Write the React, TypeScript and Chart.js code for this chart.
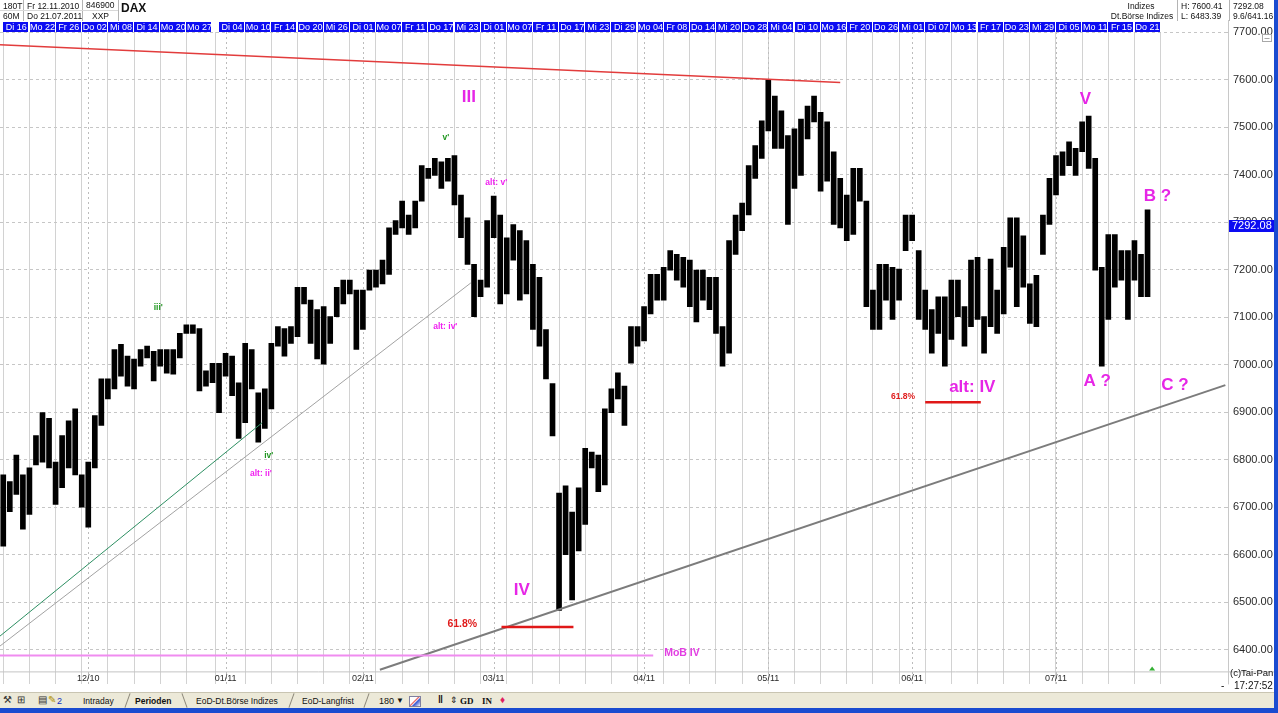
import React, { useEffect, useRef } from "react";
import { Chart, registerables } from "chart.js";

Chart.register(...registerables);

// ---- DATA (trading-day index = position in arrays, 12.11.2010 .. 21.07.2011) ----
const highs = [
  6768, 6754, 6810, 6768, 6783, 6851, 6899, 6887, 6795, 6851,
  6882, 6907, 6768, 6795, 6893, 6970, 6970, 7032, 7043, 7018,
  7012, 7032, 7039, 7028, 7032, 7032, 7032, 7066, 7084, 7084,
  7076, 6987, 7003, 7003, 7024, 7018, 6962, 7045, 7032, 6941,
  6949, 7045, 7080, 7076, 7080, 7163, 7163, 7136, 7116, 7122,
  7101, 7163, 7178, 7178, 7157, 7157, 7199, 7199, 7220, 7288,
  7303, 7344, 7315, 7344, 7419, 7413, 7434, 7427, 7434, 7440,
  7357, 7309, 7211, 7178, 7303, 7355, 7315, 7267, 7295, 7282,
  7261, 7211, 7184, 7074, 6960, 6730, 6745, 6690, 6741, 6824,
  6816, 6810, 6907, 6949, 6983, 6955, 7080, 7080, 7122, 7190,
  7190, 7205, 7240, 7232, 7226, 7220, 7199, 7199, 7184, 7184,
  7080, 7261, 7315, 7340, 7419, 7461, 7513, 7600, 7565, 7534,
  7482, 7496, 7517, 7544, 7565, 7531, 7511, 7448, 7392, 7357,
  7413, 7413, 7344, 7157, 7211, 7211, 7205, 7201, 7315, 7315,
  7240, 7157, 7116, 7143, 7143, 7178, 7178, 7122, 7220, 7226,
  7101, 7222, 7157, 7247, 7309, 7309, 7271, 7170, 7188, 7315,
  7392, 7440, 7448, 7469, 7455, 7511, 7523, 7434, 7205, 7274,
  7274, 7240, 7240, 7261, 7232, 7326,
];
const lows = [
  6618, 6691, 6727, 6654, 6685, 6789, 6795, 6783, 6706, 6741,
  6783, 6768, 6700, 6658, 6783, 6872, 6928, 6949, 6976, 6955,
  6949, 6997, 7014, 6966, 6997, 6982, 6980, 7014, 7066, 7066,
  6945, 6955, 6962, 6899, 6976, 6935, 6845, 6878, 6949, 6837,
  6866, 6907, 7039, 7018, 7045, 7059, 7128, 7045, 7012, 7001,
  7045, 7101, 7128, 7149, 7032, 7074, 7157, 7163, 7170, 7190,
  7274, 7288, 7274, 7288, 7344, 7392, 7398, 7371, 7386, 7336,
  7267, 7211, 7101, 7143, 7163, 7267, 7128, 7149, 7220, 7136,
  7149, 7074, 7039, 6970, 6850, 6483, 6600, 6505, 6608, 6664,
  6783, 6733, 6747, 6899, 6928, 6872, 7003, 7039, 7050, 7107,
  7136, 7136, 7199, 7178, 7163, 7122, 7090, 7136, 7116, 7066,
  6997, 7024, 7232, 7282, 7315, 7392, 7434, 7492, 7455, 7455,
  7295, 7371, 7398, 7475, 7511, 7365, 7386, 7295, 7288, 7261,
  7274, 7344, 7122, 7074, 7074, 7136, 7095, 7136, 7240, 7261,
  7095, 7074, 7024, 7066, 6997, 7053, 7101, 7039, 7080, 7095,
  7024, 7080, 7066, 7107, 7205, 7122, 7163, 7087, 7080, 7232,
  7295, 7357, 7398, 7419, 7398, 7448, 7413, 7199, 6997, 7095,
  7163, 7178, 7095, 7178, 7143, 7143,
];
const lastPrice = 7292.08;
const signalDay = 175.7;

const yTicks = [6400, 6500, 6600, 6700, 6800, 6900, 7000, 7100, 7200, 7300, 7400, 7500, 7600, 7700];
const yMin = 6327.3;
const yMax = 7700;
const xMin = -0.5;
const xMax = 187;

const stripDays = [
  2, 6, 10, 14, 18, 22, 26, 30,
  35, 39, 43, 47, 51, 55, 59, 63, 67, 71, 75, 79, 83, 87, 91, 95, 99, 103,
  107, 111, 115, 119, 123, 127, 131, 135, 139, 143, 147, 151, 155, 159, 163, 167, 171, 175,
];
const stripLabels = [
  "Di 16", "Mo 22", "Fr 26", "Do 02", "Mi 08", "Di 14", "Mo 20", "Mo 27",
  "Di 04", "Mo 10", "Fr 14", "Do 20", "Mi 26", "Di 01", "Mo 07", "Fr 11", "Do 17", "Mi 23",
  "Di 01", "Mo 07", "Fr 11", "Do 17", "Mi 23", "Di 29", "Mo 04", "Fr 08", "Do 14", "Mi 20",
  "Do 28", "Mi 04", "Di 10", "Mo 16", "Fr 20", "Do 26", "Mi 01", "Di 07", "Mo 13", "Fr 17",
  "Do 23", "Mi 29", "Di 05", "Mo 11", "Fr 15", "Do 21",
];
const monthStarts = [13, 34, 55, 75, 98, 117, 139, 161];
const monthLabels = ["12/10", "01/11", "02/11", "03/11", "04/11", "05/11", "06/11", "07/11"];

// trend lines: [day, price]
const redResistance = [[-0.5, 7673], [128.0, 7594]];
const greenSupport = [[-0.5, 6429], [39.6, 6878]];
const altSupport = [[-0.5, 6408], [71.5, 7172]];
const mainTrend = [[57.6, 6358], [186.9, 6957]];
const mobLevel = [-0.5, 99.4, 6388];
const fibLevelIV = [76.2, 87.2, 6448];
const fibLevelAltIV = [141.0, 149.5, 6921];

const waveLabels = [
  ["III", 71.2, 7563, "major"],
  ["v'", 67.7, 7477, "green"],
  ["alt: v'", 75.4, 7384, "pink"],
  ["iii'", 23.7, 7120, "green"],
  ["alt: iv'", 67.6, 7080, "pink"],
  ["iv'", 40.6, 6808, "green"],
  ["alt: ii'", 39.4, 6770, "pink"],
  ["IV", 79.3, 6525, "major"],
  ["V", 165.5, 7559, "major"],
  ["B ?", 176.5, 7355, "major"],
  ["A ?", 167.3, 6966, "major"],
  ["C ?", 179.2, 6957, "major"],
  ["alt: IV", 148.2, 6953, "major"],
  ["61.8%", 70.2, 6454, "fib"],
  ["61.8%", 137.6, 6932, "fibSmall"],
  ["MoB IV", 103.8, 6394, "mob"],
];

const FONT = '"Liberation Sans", Arial, sans-serif';
const labelStyles: any = {
  major: { font: `bold 17px ${FONT}`, color: "#e626e6" },
  green: { font: `bold 8.5px ${FONT}`, color: "#1f961f" },
  pink: { font: `bold 8.5px ${FONT}`, color: "#f020f0" },
  fib: { font: `bold 10.5px ${FONT}`, color: "#e01c1c" },
  fibSmall: { font: `bold 8.5px ${FONT}`, color: "#e01c1c" },
  mob: { font: `bold 10.5px ${FONT}`, color: "#e23ee2" },
};

Chart.defaults.font.family = FONT;

export default function App() {
  const ref = useRef<HTMLCanvasElement>(null);

  useEffect(() => {
    const canvas = ref.current as HTMLCanvasElement;
    const bars = highs.map((h, i) => ({ x: i, y: [lows[i], h] }));

    const taipan = {
      id: "taipan",
      beforeDatasetsDraw(chart: any) {
        const { ctx, chartArea: a, scales } = chart;
        const x = scales.x;
        ctx.save();
        ctx.strokeStyle = "#bcbcbc";
        ctx.lineWidth = 1;
        ctx.setLineDash([2, 3]);
        for (const d of monthStarts) {
          const px = Math.round(x.getPixelForValue(d)) + 0.5;
          ctx.beginPath();
          ctx.moveTo(px, a.top);
          ctx.lineTo(px, a.bottom);
          ctx.stroke();
        }
        ctx.restore();
      },
      afterDatasetsDraw(chart: any) {
        const { ctx, chartArea: a, scales } = chart;
        const x = scales.x;
        const y = scales.y;
        const seg = (p1: number[], p2: number[], color: string, w: number) => {
          ctx.save();
          ctx.beginPath();
          ctx.rect(a.left, a.top, a.right - a.left, a.bottom - a.top);
          ctx.clip();
          ctx.strokeStyle = color;
          ctx.lineWidth = w;
          ctx.beginPath();
          ctx.moveTo(x.getPixelForValue(p1[0]), y.getPixelForValue(p1[1]));
          ctx.lineTo(x.getPixelForValue(p2[0]), y.getPixelForValue(p2[1]));
          ctx.stroke();
          ctx.restore();
        };
        seg(redResistance[0], redResistance[1], "#e23c3c", 1.5);
        seg(greenSupport[0], greenSupport[1], "#2d8f62", 1);
        seg(altSupport[0], altSupport[1], "#a2a2a2", 1);
        seg(mainTrend[0], mainTrend[1], "#7c7c7c", 2);
        seg([mobLevel[0], mobLevel[2]], [mobLevel[1], mobLevel[2]], "#f08cf0", 2);
        seg([fibLevelIV[0], fibLevelIV[2]], [fibLevelIV[1], fibLevelIV[2]], "#e01818", 2.5);
        seg([fibLevelAltIV[0], fibLevelAltIV[2]], [fibLevelAltIV[1], fibLevelAltIV[2]], "#e01818", 2.5);

        ctx.save();
        ctx.textAlign = "center";
        ctx.textBaseline = "middle";
        for (const [text, d, p, kind] of waveLabels as any[]) {
          const st = labelStyles[kind];
          ctx.font = st.font;
          ctx.fillStyle = st.color;
          ctx.fillText(text, x.getPixelForValue(d), y.getPixelForValue(p));
        }
        ctx.restore();
      },
      afterDraw(chart: any) {
        const { ctx, chartArea: a, scales } = chart;
        const x = scales.x;
        const y = scales.y;
        ctx.save();
        // top date strip
        ctx.font = `9px ${FONT}`;
        ctx.textAlign = "center";
        ctx.textBaseline = "middle";
        stripDays.forEach((d, i) => {
          const px = x.getPixelForValue(d);
          ctx.fillStyle = "#0c0cf2";
          ctx.fillRect(Math.round(px - 13), 22, 25, 10);
          ctx.fillStyle = "#ffffff";
          ctx.fillText(stripLabels[i], px, 27.5);
        });
        // bottom month row
        const rowTop = a.bottom - 13;
        ctx.strokeStyle = "#c4c4c4";
        ctx.lineWidth = 1;
        ctx.beginPath();
        ctx.moveTo(a.left, rowTop + 0.5);
        ctx.lineTo(a.right + 48, rowTop + 0.5);
        ctx.stroke();
        ctx.fillStyle = "#2a2a2a";
        ctx.font = `9px ${FONT}`;
        monthStarts.forEach((d, i) => {
          ctx.fillText(monthLabels[i], x.getPixelForValue(d), rowTop + 7);
        });
        // axis line
        ctx.strokeStyle = "#c8c8c8";
        ctx.beginPath();
        ctx.moveTo(a.right + 2.5, 20);
        ctx.lineTo(a.right + 2.5, a.bottom);
        ctx.stroke();
        // current price box
        const py = y.getPixelForValue(lastPrice);
        ctx.fillStyle = "#0c0cf2";
        ctx.fillRect(a.right + 3, Math.round(py - 6), 46, 12);
        ctx.fillStyle = "#ffffff";
        ctx.font = `11px ${FONT}`;
        ctx.textAlign = "left";
        ctx.fillText(lastPrice.toFixed(2), a.right + 6, py + 0.5);
        // small box icon
        ctx.strokeStyle = "#a8a8a8";
        ctx.strokeRect(a.right + 36.5, 34.5, 9, 7);
        ctx.beginPath();
        ctx.moveTo(a.right + 38.5, 38.5);
        ctx.lineTo(a.right + 43.5, 38.5);
        ctx.stroke();
        // signal triangle
        const tx = x.getPixelForValue(signalDay);
        ctx.fillStyle = "#33b033";
        ctx.beginPath();
        ctx.moveTo(tx - 3, rowTop - 1);
        ctx.lineTo(tx + 3, rowTop - 1);
        ctx.lineTo(tx, rowTop - 5);
        ctx.closePath();
        ctx.fill();
        ctx.restore();
      },
    };

    const chart = new Chart(canvas, {
      type: "bar",
      data: {
        datasets: [
          {
            data: bars as any,
            backgroundColor: "#000000",
            borderWidth: 0,
            barThickness: 5,
            grouped: false,
          } as any,
        ],
      },
      options: {
        animation: false,
        responsive: false,
        maintainAspectRatio: false,
        events: [],
        layout: { padding: { top: 32, bottom: 0, left: 0, right: 0 } },
        plugins: { legend: { display: false }, tooltip: { enabled: false }, title: { display: false } },
        scales: {
          x: {
            type: "linear",
            min: xMin,
            max: xMax,
            offset: false,
            afterBuildTicks: (s: any) => {
              s.ticks = stripDays.map((v) => ({ value: v }));
            },
            afterFit: (s: any) => {
              s.height = 0;
            },
            ticks: { display: false },
            grid: { color: "#d2d2d2", lineWidth: 1, drawTicks: false },
            border: { display: false },
          },
          y: {
            type: "linear",
            position: "right",
            min: yMin,
            max: yMax,
            afterBuildTicks: (s: any) => {
              s.ticks = yTicks.map((v) => ({ value: v }));
            },
            afterFit: (s: any) => {
              s.width = 48;
            },
            ticks: {
              color: "#2a2a2a",
              font: { size: 11, family: FONT },
              padding: 1,
              callback: (v: any) => Number(v).toFixed(2),
            },
            grid: {
              color: "#c6c6c6",
              lineWidth: 1,
              drawTicks: true,
              tickLength: 6,
              tickColor: "#c6c6c6",
              tickBorderDash: [3, 3],
            },
            border: { display: false, dash: [3, 3] },
          },
        },
      } as any,
      plugins: [taipan as any],
    });
    return () => chart.destroy();
  }, []);

  const t = (s: any): any => ({ position: "absolute", whiteSpace: "nowrap", lineHeight: "10px", ...s });
  const vline = (left: number, top: number, h: number, color = "#b4b4b4"): any => ({
    position: "absolute", left, top, width: 1, height: h, background: color,
  });

  return (
    <div
      style={{
        position: "fixed", left: 0, top: 0, width: 1278, height: 713, background: "#ffffff",
        overflow: "hidden", fontFamily: FONT, color: "#111",
      }}
    >
      <canvas ref={ref} width={1274} height={692} style={{ position: "absolute", left: 0, top: 0 }} />

      {/* header */}
      <div style={{ ...t({ left: 3, top: 1, fontSize: "8.5px" }) }}>180T</div>
      <div style={{ ...t({ left: 27, top: 1, fontSize: "8.5px" }) }}>Fr 12.11.2010</div>
      <div style={{ ...t({ left: 86, top: 0, fontSize: "8.5px" }) }}>846900</div>
      <div style={{ ...t({ left: 121, top: 3, fontSize: "12px", fontWeight: "bold" }) }}>DAX</div>
      <div style={{ ...t({ left: 3, top: 11, fontSize: "8.5px" }) }}>60M</div>
      <div style={{ ...t({ left: 27, top: 11, fontSize: "8.5px" }) }}>Do 21.07.2011</div>
      <div style={{ ...t({ left: 92, top: 11, fontSize: "8.5px" }) }}>XXP</div>
      <div style={vline(23, 0, 21)} />
      <div style={vline(82, 0, 21)} />
      <div style={vline(118, 0, 21)} />
      <div style={{ position: "absolute", left: 0, top: 10, width: 118, height: 1, background: "#d8d8d8" }} />

      <div style={{ ...t({ left: 1108, top: 1, width: 66, textAlign: "center", fontSize: "8.5px" }) }}>Indizes</div>
      <div style={{ ...t({ left: 1108, top: 11, width: 68, textAlign: "center", fontSize: "8.5px" }) }}>Dt.Börse Indizes</div>
      <div style={{ ...t({ left: 1181, top: 1, fontSize: "8.5px" }) }}>H: 7600.41</div>
      <div style={{ ...t({ left: 1181, top: 11, fontSize: "8.5px" }) }}>L: 6483.39</div>
      <div style={{ ...t({ left: 1233, top: 1, fontSize: "8.5px" }) }}>7292.08</div>
      <div style={{ ...t({ left: 1233, top: 11, fontSize: "8.5px" }) }}>9.6/641.16</div>
      <div style={vline(1177, 0, 21)} />
      <div style={vline(1229, 0, 21)} />

      {/* bottom right info */}
      <div style={{ ...t({ left: 1230, top: 668, fontSize: "9.5px" }) }}>(c)Tai-Pan</div>
      <div style={{ ...t({ left: 1234, top: 681, fontSize: "10px" }) }}>17:27:52</div>
      <div style={{ ...t({ left: 1221, top: 681, fontSize: "10px" }) }}>-</div>

      {/* toolbar */}
      <div
        style={{
          position: "absolute", left: 0, top: 692, width: 1274, height: 16, background: "#ece9d8",
          borderTop: "1px solid #c9c5b2", boxSizing: "border-box", fontSize: "8.5px",
        }}
      >
        <div style={{ ...t({ left: 3, top: 2, fontSize: "10px", color: "#333" }) }}>⚒</div>
        <div style={{ ...t({ left: 17, top: 2, fontSize: "10px", color: "#333" }) }}>⊞</div>
        <div style={{ ...t({ left: 38, top: 2, fontSize: "10px", color: "#333" }) }}>▤</div>
        <div style={{ ...t({ left: 48, top: 2, fontSize: "10px", color: "#b09000" }) }}>✎</div>
        <div style={{ ...t({ left: 57, top: 3, fontSize: "9px", color: "#1030c0" }) }}>2</div>
        <div style={{ position: "absolute", left: 74, top: 0, width: 292, height: 15, borderBottom: "1px solid #a8a490" }} />
        <div style={{ ...t({ left: 83, top: 3 }) }}>Intraday</div>
        <div style={{ position: "absolute", left: 127, top: 0, width: 1, height: 15, background: "#8c887a", transform: "rotate(20deg)" }} />
        <div style={{ ...t({ left: 135, top: 3, fontWeight: "bold" }) }}>Perioden</div>
        <div style={{ position: "absolute", left: 184, top: 0, width: 1, height: 15, background: "#8c887a", transform: "rotate(-20deg)" }} />
        <div style={{ ...t({ left: 196, top: 3 }) }}>EoD-Dt.Börse Indizes</div>
        <div style={{ position: "absolute", left: 291, top: 0, width: 1, height: 15, background: "#8c887a", transform: "rotate(20deg)" }} />
        <div style={{ ...t({ left: 302, top: 3 }) }}>EoD-Langfrist</div>
        <div style={{ position: "absolute", left: 366, top: 0, width: 1, height: 15, background: "#8c887a", transform: "rotate(20deg)" }} />
        <div style={{ ...t({ left: 379, top: 3, fontSize: "9px" }) }}>180</div>
        <div style={{ ...t({ left: 396, top: 3, fontSize: "8px" }) }}>▼</div>
        <div style={{ position: "absolute", left: 409, top: 3, width: 10, height: 9, border: "1px solid #8080a0", background: "linear-gradient(135deg,#fff 40%,#e04040 45%,#fff 55%,#3050d0 60%,#fff)" }} />
        <div style={{ ...t({ left: 438, top: 2, fontSize: "10px", fontWeight: "bold" }) }}>‖</div>
        <div style={{ ...t({ left: 450, top: 2, fontSize: "9px" }) }}>⇕</div>
        <div style={{ ...t({ left: 460, top: 3, fontSize: "9px", fontWeight: "bold", fontFamily: '"Liberation Serif", serif' }) }}>GD</div>
        <div style={{ ...t({ left: 482, top: 3, fontSize: "9px", fontWeight: "bold", fontFamily: '"Liberation Serif", serif' }) }}>IN</div>
        <div style={{ ...t({ left: 500, top: 2, fontSize: "10px", color: "#e02060" }) }}>♦</div>
      </div>

      {/* window borders */}
      <div style={{ position: "absolute", left: 0, top: 708, width: 1278, height: 5, background: "#1a4bd0" }} />
      <div style={{ position: "absolute", left: 1274, top: 0, width: 4, height: 713, background: "#1a4bd0" }} />
    </div>
  );
}
